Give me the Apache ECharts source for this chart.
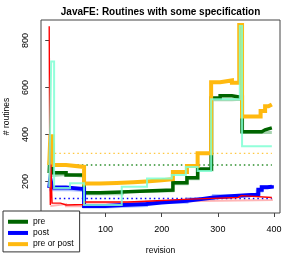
<!DOCTYPE html>
<html><head><meta charset="utf-8">
<script src="https://cdn.jsdelivr.net/npm/echarts@6/dist/echarts.min.js"></script>
<style>html,body{margin:0;padding:0;background:#fff}#c{width:294px;height:254px}</style>
</head><body><div id="c"></div>
<script>
const chartTitle = "JavaFE: Routines with some specification";
const xName = "revision";
const yName = "# routines";
const xTicks = [100, 200, 300, 400];
const yTicks = [200, 400, 600, 800];

// pre (dark green)
const preRev = [0, 2, 6, 30, 62, 90, 130, 172, 220, 245, 264, 288, 304, 325, 343, 378, 384, 396];
const preVal = [236, 355, 237, 228, 152, 155, 160, 164, 195, 216, 253, 555, 565, 557, 412, 420, 428, 428];
// post (blue)
const postRev = [0, 2, 5, 30, 62, 100, 130, 173, 200, 245, 270, 292, 330, 351, 368, 372, 378, 388, 396];
const postVal = [172, 212, 175, 168, 96, 100, 104, 111, 118, 125, 132, 138, 141, 144, 146, 165, 176, 178, 184];
// pre or post (orange)
const ppRev = [0, 2, 6, 30, 62, 90, 120, 150, 172, 200, 220, 245, 264, 288, 304, 325, 338, 343, 376, 384, 390, 396];
const ppVal = [270, 392, 270, 262, 192, 194, 197, 200, 205, 210, 240, 266, 320, 622, 630, 620, 866, 476, 500, 520, 528, 530];
// red thin line
const redRev = [0, 1, 2, 3, 5, 20, 30, 62, 100, 140, 173, 240, 290, 336, 342, 396];
const redVal = [860, 275, 100, 272, 108, 100, 102, 113, 113, 116, 124, 128, 132, 140, 132, 130];
// aquamarine line
const aqRev = [0, 3.5, 8.7, 37, 62, 129, 174, 218, 243, 264, 288, 339, 343, 396];
const aqVal = [175, 710, 172, 193, 100, 178, 213, 228, 262, 245, 550, 862, 350, 350];
// faded companions
const preShRev = [0, 6, 30, 62, 130, 172, 220, 245, 265, 290, 325, 339, 344, 396];
const preShVal = [226, 230, 222, 148, 157, 160, 190, 212, 250, 548, 550, 560, 408, 410];
const postShRev = [0, 5, 30, 62, 100, 173, 245, 292, 351, 370, 378, 396];
const postShVal = [165, 166, 162, 92, 98, 112, 127, 140, 146, 160, 178, 182];
const redShRev = [2, 5, 30, 62, 140, 173, 396];
const redShVal = [96, 104, 95, 110, 114, 121, 128];
// mean (dotted) levels
const meanRev = [10, 396];
const meanPre = [270, 270];
const meanPost = [128, 128];
const meanPP = [320, 320];

const zip = (a, b) => a.map((x, i) => [x, b[i]]);
const FONT = "Liberation Sans, Arial, Helvetica, sans-serif";

function stepLine(name, rev, val, color, width, z, extra) {
  return Object.assign({
    name: name, type: 'line', step: 'end', showSymbol: false, symbol: 'none',
    data: zip(rev, val), z: z, silent: true,
    lineStyle: { color: color, width: width, join: 'miter' },
    itemStyle: { color: color }
  }, extra || {});
}
function dotLine(rev, val, color, width, z) {
  return {
    type: 'line', showSymbol: false, symbol: 'none', data: zip(rev, val), z: z, silent: true,
    lineStyle: { color: color, width: width, type: [1.5, 3] }
  };
}

const chart = echarts.init(document.getElementById('c'), null, { renderer: 'canvas' });
chart.setOption({
  animation: false,
  backgroundColor: '#fff',
  title: {
    text: chartTitle, left: 160.5, top: 7, padding: 0, textAlign: 'center',
    textStyle: { fontFamily: FONT, fontSize: 10, fontWeight: 'bold', color: '#000' }
  },
  grid: { left: 41, right: 14, top: 20, bottom: 41, show: true, borderColor: '#444', borderWidth: 1,
    backgroundColor: 'transparent', containLabel: false, outerBoundsMode: 'none' },
  xAxis: {
    type: 'value', min: -14.6, max: 410.5,
    name: xName, nameLocation: 'middle', nameGap: 33,
    nameTextStyle: { fontFamily: FONT, fontSize: 8.5, color: '#000' },
    axisLine: { show: false }, splitLine: { show: false },
    axisTick: { show: true, length: 4, customValues: xTicks, lineStyle: { color: '#444' } },
    axisLabel: { customValues: xTicks, margin: 12, fontFamily: FONT, fontSize: 9, color: '#000' }
  },
  yAxis: {
    type: 'value', min: 66, max: 887,
    name: yName, nameLocation: 'middle', nameGap: 30, nameRotate: 90,
    nameTextStyle: { fontFamily: FONT, fontSize: 8.5, color: '#000' },
    axisLine: { show: false }, splitLine: { show: false },
    axisTick: { show: true, length: 4, customValues: yTicks, lineStyle: { color: '#444' } },
    axisLabel: { customValues: yTicks, rotate: 90, margin: 11, fontFamily: FONT, fontSize: 9, color: '#000' }
  },
  legend: {
    data: ['pre', 'post', 'pre or post'],
    orient: 'vertical', left: 3, top: 211, icon: 'rect', itemWidth: 20, itemHeight: 4, itemGap: 1.7,
    padding: [6, 6, 3, 5], backgroundColor: '#fff', borderColor: '#333', borderWidth: 1, borderRadius: 0,
    textStyle: { fontFamily: FONT, fontSize: 8.5, color: '#000', lineHeight: 9.5 }
  },
  series: [
    dotLine(meanRev, meanPP, 'rgba(255,185,15,0.8)', 1.2, 1),
    dotLine(meanRev, meanPre, 'rgba(40,140,40,0.75)', 2, 1),
    dotLine(meanRev, meanPost, '#0000ff', 1.4, 1),
    stepLine('preShadow', preShRev, preShVal, 'rgba(60,160,80,0.45)', 3, 2),
    stepLine('postShadow', postShRev, postShVal, 'rgba(90,130,255,0.5)', 3, 2),
    stepLine('redShadow', redShRev, redShVal, 'rgba(255,110,110,0.5)', 2, 2),
    stepLine('pre', preRev, preVal, '#006400', 3.5, 3),
    stepLine('post', postRev, postVal, '#0000ff', 4, 3),
    stepLine('pre or post', ppRev, ppVal, '#ffb90f', 4, 3),
    stepLine('red', redRev, redVal, '#ff0000', 1.4, 4),
    stepLine('aqua', aqRev, aqVal, 'rgba(127,255,212,0.85)', 2, 4)
  ]
});
</script></body></html>
